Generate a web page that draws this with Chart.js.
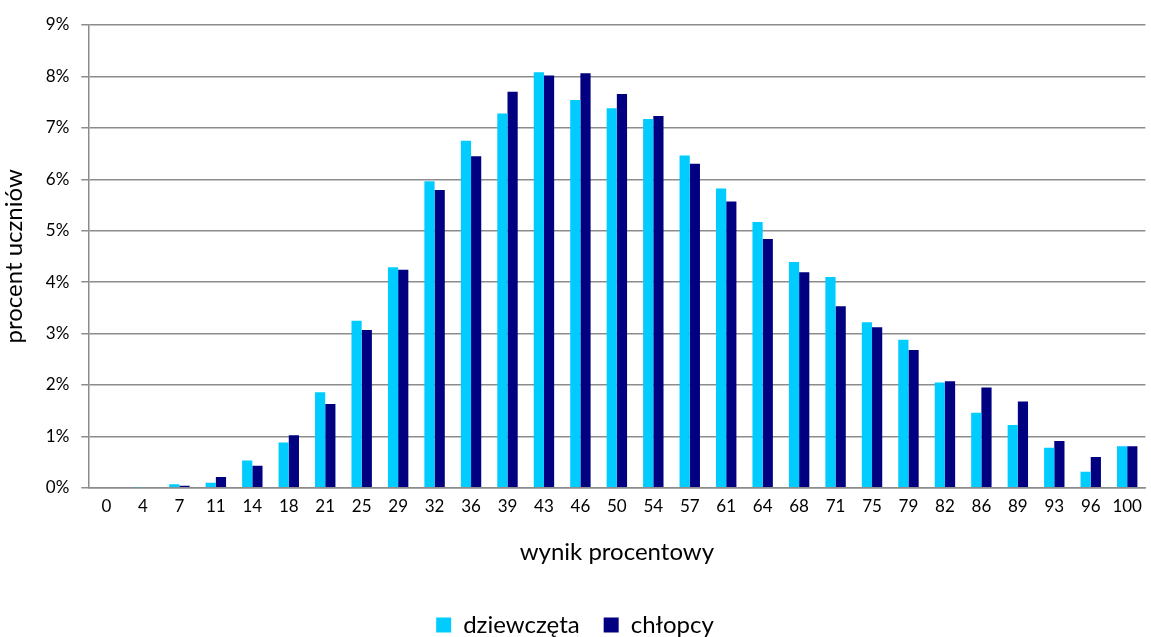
<!DOCTYPE html>
<html>
<head>
<meta charset="utf-8">
<script src="https://cdn.jsdelivr.net/npm/chart.js@4/dist/chart.umd.min.js"></script>
<style>
  html, body { margin: 0; padding: 0; background: #fff; }
  #wrap { width: 1151px; height: 637px; }
</style>
</head>
<body>
<div id="wrap"><canvas id="myChart"></canvas></div>
<script>
const categories = ["0", "4", "7", "11", "14", "18", "21", "25", "29", "32", "36", "39", "43", "46", "50",
  "54", "57", "61", "64", "68", "71", "75", "79", "82", "86", "89", "93", "96", "100"];
const girls = [0, 0.01, 0.07, 0.1, 0.53, 0.88, 1.86, 3.25, 4.29, 5.96, 6.75, 7.28, 8.08, 7.54, 7.38,
  7.17, 6.46, 5.82, 5.17, 4.39, 4.1, 3.22, 2.88, 2.05, 1.46, 1.22, 0.78, 0.31, 0.81];
const boys = [0, 0, 0.04, 0.21, 0.43, 1.02, 1.63, 3.07, 4.24, 5.79, 6.45, 7.7, 8.02, 8.06, 7.66,
  7.23, 6.3, 5.57, 4.84, 4.19, 3.53, 3.12, 2.68, 2.07, 1.95, 1.68, 0.91, 0.6, 0.81];
const seriesNames = ["dziewczęta", "chłopcy"];

const fontFamily = "Lato, 'Open Sans', sans-serif";
const gridColor = "#8c8c8c";

const ctx = document.getElementById("myChart");
const chart = new Chart(ctx, {
  type: "bar",
  data: {
    labels: categories,
    datasets: [
      {
        label: seriesNames[0],
        data: girls,
        backgroundColor: "#00CCFF",
        borderWidth: 0,
      },
      {
        label: seriesNames[1],
        data: boys,
        backgroundColor: "#000080",
        borderWidth: 0,
      },
    ],
  },
  options: {
    responsive: true,
    maintainAspectRatio: false,
    animation: false,
    layout: { padding: { left: 0, right: 1, top: 25, bottom: -10 } },
    datasets: { bar: { categoryPercentage: 0.56, barPercentage: 1 } },
    scales: {
      x: {
        grid: { display: false, drawTicks: false },
        border: { color: gridColor, width: 1.5 },
        ticks: { color: "#000", font: { family: fontFamily, size: 17 }, padding: 9, maxRotation: 0, autoSkip: false },
        title: {
          display: true,
          text: "wynik procentowy",
          color: "#000",
          font: { family: fontFamily, size: 24 },
          padding: { top: 12, bottom: 22 },
        },
      },
      y: {
        min: 0,
        max: 9,
        ticks: {
          stepSize: 1,
          color: "#000",
          font: { family: fontFamily, size: 17 },
          padding: 12,
          callback: (v) => v + "%",
        },
        grid: { color: gridColor, lineWidth: 1.5, tickLength: 7 },
        border: { color: gridColor, width: 1.5 },
        title: {
          display: true,
          text: "procent uczniów",
          color: "#000",
          font: { family: fontFamily, size: 24 },
          padding: { top: 0, bottom: 5 },
        },
      },
    },
    plugins: {
      legend: {
        position: "bottom",
        labels: {
          color: "#000",
          font: { family: fontFamily, size: 24 },
          boxWidth: 15,
          boxHeight: 15,
          padding: 24,
        },
      },
      tooltip: { enabled: false },
    },
  },
});
</script>
</body>
</html>
